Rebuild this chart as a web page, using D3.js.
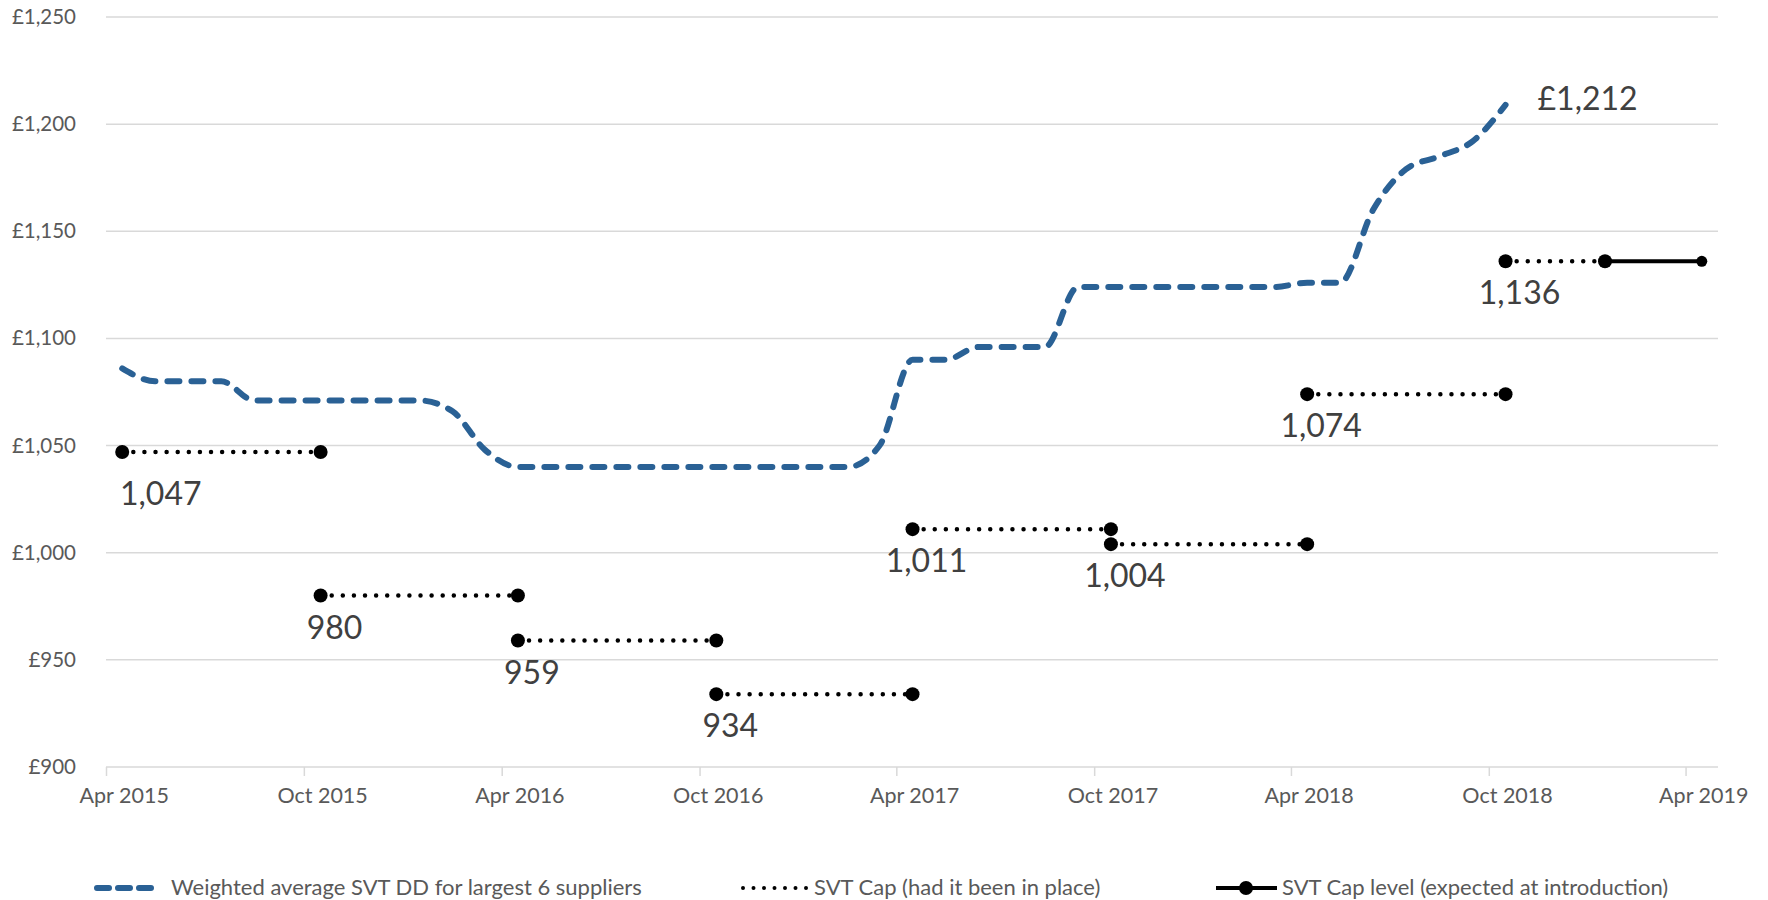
<!DOCTYPE html>
<html>
<head>
<meta charset="utf-8">
<script src="https://cdn.jsdelivr.net/npm/d3@7"></script>
<style>
  html, body { margin: 0; padding: 0; background: #fff; }
  svg { display: block; font-family: Lato, "Open Sans", sans-serif; }
</style>
</head>
<body>
<div id="container"></div>
<script>
// monthly weighted average SVT dual-fuel bill, largest 6 suppliers
const months = [
  '2015-04', '2015-05', '2015-06', '2015-07', '2015-08', '2015-09', '2015-10', '2015-11', '2015-12',
  '2016-01', '2016-02', '2016-03', '2016-04', '2016-05', '2016-06', '2016-07', '2016-08', '2016-09',
  '2016-10', '2016-11', '2016-12', '2017-01', '2017-02', '2017-03', '2017-04', '2017-05', '2017-06',
  '2017-07', '2017-08', '2017-09', '2017-10', '2017-11', '2017-12', '2018-01', '2018-02', '2018-03',
  '2018-04', '2018-05', '2018-06', '2018-07', '2018-08', '2018-09', '2018-10'
]
const svtValues = [
  1086, 1080, 1080, 1080, 1071, 1071, 1071, 1071, 1071,
  1071, 1066, 1048, 1040, 1040, 1040, 1040, 1040, 1040,
  1040, 1040, 1040, 1040, 1040, 1050, 1090, 1090, 1096,
  1096, 1096, 1124, 1124, 1124, 1124, 1124, 1124, 1124,
  1126, 1126, 1160, 1179, 1185, 1192, 1209
]
const svtLatestLabel = 1212

// SVT cap had it been in place (one level per six-month period)
const capStarts = ['2015-04', '2015-10', '2016-04', '2016-10', '2017-04', '2017-10', '2018-04', '2018-10']
const capEnds = ['2015-10', '2016-04', '2016-10', '2017-04', '2017-10', '2018-04', '2018-10', '2019-01']
const capValues = [1047, 980, 959, 934, 1011, 1004, 1074, 1136]

// expected cap level at introduction
const expectedMonths = ['2019-01', '2019-04']
const expectedValues = [1136, 1136]

const yTicks = [900, 950, 1000, 1050, 1100, 1150, 1200, 1250]
const legendLabels = [
  'Weighted average SVT DD for largest 6 suppliers',
  'SVT Cap (had it been in place)',
  'SVT Cap level (expected at introduction)'
]

const width = 1768
const height = 900
const plot = { left: 106, right: 1718, top: 17, bottom: 767 }
const blue = '#2a6195'
const markerR = 7

const parseMonth = d3.timeParse('%Y-%m')
// excel date axis puts a monthly point in the middle of its month
function mid(m) {
  let d = parseMonth(m)
  let next = d3.timeMonth.offset(d, 1)
  return new Date((+d + +next) / 2)
}

const x = d3.scaleTime()
  .domain([new Date(2015, 3, 1), new Date(2019, 4, 1)])
  .range([plot.left, plot.right])
const y = d3.scaleLinear()
  .domain([900, 1250])
  .range([plot.bottom, plot.top])

let svg = d3.select('#container')
  .append('svg')
  .attr('width', width)
  .attr('height', height)

// gridlines
svg.append('g')
  .selectAll('line')
  .data(yTicks)
  .enter().append('line')
  .attr('x1', plot.left)
  .attr('x2', plot.right)
  .attr('y1', d => y(d))
  .attr('y2', d => y(d))
  .style('stroke', '#d9d9d9')
  .style('stroke-width', 1.5)

// y axis labels
let yAxis = svg.append('g')
  .attr('transform', `translate(${plot.left - 30},0)`)
  .call(d3.axisLeft(y).tickValues(yTicks).tickSize(0).tickPadding(0)
    .tickFormat(d => '£' + d3.format(',')(d)))
yAxis.select('.domain').remove()
yAxis.selectAll('text')
  .style('font-family', 'Lato, sans-serif')
  .style('font-size', '20.5px')
  .style('fill', '#595959')

// x axis: ticks at month boundaries, labels at the middle of the month
let xTicks = d3.timeMonths(new Date(2015, 3, 1), new Date(2019, 3, 2), 6)
let xAxis = svg.append('g')
  .attr('transform', `translate(0,${plot.bottom})`)
  .call(d3.axisBottom(x).tickValues(xTicks).tickSize(9).tickFormat(''))
xAxis.select('.domain').remove()
xAxis.selectAll('line').style('stroke', '#d9d9d9').style('stroke-width', 1.5)

svg.append('g')
  .selectAll('text')
  .data(xTicks)
  .enter().append('text')
  .attr('x', d => x(mid(d3.timeFormat('%Y-%m')(d))) + 2)
  .attr('y', plot.bottom + 36)
  .attr('text-anchor', 'middle')
  .style('font-size', '21.5px')
  .style('fill', '#595959')
  .text(d => d3.timeFormat('%b %Y')(d))

// weighted average SVT line
let svtData = months.map((m, i) => ({ date: mid(m), value: svtValues[i] }))
let line = d3.line()
  .x(d => x(d.date))
  .y(d => y(d.value))
  .curve(d3.curveMonotoneX)

svg.append('path')
  .datum(svtData)
  .attr('d', line)
  .style('fill', 'none')
  .style('stroke', blue)
  .style('stroke-width', 6)
  .style('stroke-linecap', 'round')
  .style('stroke-dasharray', '12 12')

let last = svtData[svtData.length - 1]
svg.append('text')
  .attr('x', x(last.date) + 32)
  .attr('y', y(last.value) + 5)
  .style('font-size', '32px')
  .style('fill', '#404040')
  .text('£' + d3.format(',')(svtLatestLabel))

// cap segments, dotted with end markers
let capData = capValues.map((v, i) => ({
  start: mid(capStarts[i]), end: mid(capEnds[i]), value: v
}))

let caps = svg.append('g')
  .selectAll('g')
  .data(capData)
  .enter().append('g')

caps.append('line')
  .attr('x1', d => x(d.start))
  .attr('x2', d => x(d.end))
  .attr('y1', d => y(d.value))
  .attr('y2', d => y(d.value))
  .style('stroke', '#000')
  .style('stroke-width', 4.5)
  .style('stroke-linecap', 'round')
  .style('stroke-dasharray', '0 11.1')

// expected cap, solid
let expData = expectedMonths.map((m, i) => ({ date: mid(m), value: expectedValues[i] }))
svg.append('path')
  .datum(expData)
  .attr('d', d3.line().x(d => x(d.date)).y(d => y(d.value)))
  .style('fill', 'none')
  .style('stroke', '#000')
  .style('stroke-width', 4)

caps.append('circle')
  .attr('cx', d => x(d.start))
  .attr('cy', d => y(d.value))
  .attr('r', markerR)
caps.append('circle')
  .attr('cx', d => x(d.end))
  .attr('cy', d => y(d.value))
  .attr('r', markerR)

svg.append('circle')
  .attr('cx', x(expData[1].date))
  .attr('cy', y(expData[1].value))
  .attr('r', 5.5)

// cap value labels below the start of each period
let fmt = d3.format(',')
caps.append('text')
  .attr('x', d => x(d.start) + 14)
  .attr('y', d => y(d.value) + 43)
  .attr('text-anchor', 'middle')
  .style('font-size', '32px')
  .style('fill', '#404040')
  .text(d => fmt(d.value))
  .each(function (d) {
    // keep the first label clear of the axis, dropped a little lower
    let box = this.getBBox()
    if (box.x < plot.left + 14) {
      d3.select(this)
        .attr('x', plot.left + 14 + box.width / 2)
        .attr('y', y(d.value) + 53)
    }
  })

// legend
let legendY = 888
let legend = svg.append('g')

legend.append('line')
  .attr('x1', 97).attr('x2', 158)
  .attr('y1', legendY).attr('y2', legendY)
  .style('stroke', blue)
  .style('stroke-width', 6)
  .style('stroke-linecap', 'round')
  .style('stroke-dasharray', '12 9')

legend.append('line')
  .attr('x1', 743).attr('x2', 810)
  .attr('y1', legendY).attr('y2', legendY)
  .style('stroke', '#000')
  .style('stroke-width', 4)
  .style('stroke-linecap', 'round')
  .style('stroke-dasharray', '0 10.5')

legend.append('line')
  .attr('x1', 1216).attr('x2', 1277)
  .attr('y1', legendY).attr('y2', legendY)
  .style('stroke', '#000')
  .style('stroke-width', 4)
legend.append('circle')
  .attr('cx', 1246).attr('cy', legendY).attr('r', markerR)

legend.selectAll('text')
  .data(legendLabels)
  .enter().append('text')
  .attr('x', (d, i) => [171, 814, 1282][i])
  .attr('y', legendY + 7)
  .style('font-size', '22px')
  .style('fill', '#595959')
  .text(d => d)
</script>
</body>
</html>
